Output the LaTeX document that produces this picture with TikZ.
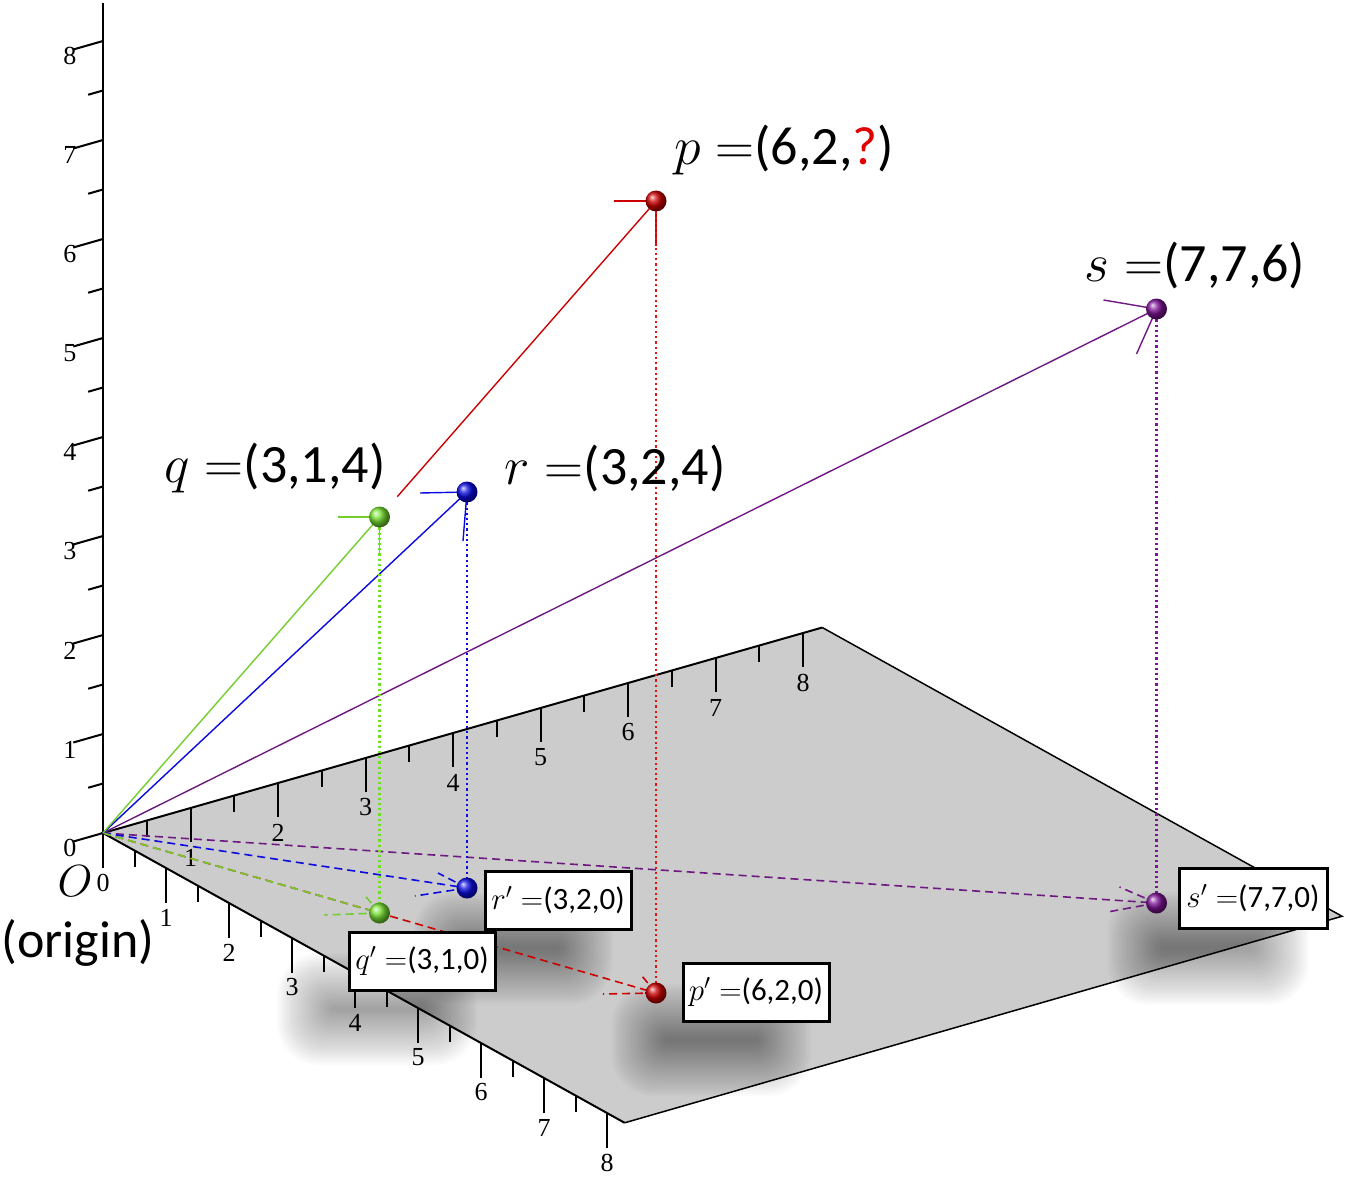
\RequirePackage{fix-cm}
\documentclass[tikz,border=0pt]{standalone}
\usepackage{fontspec}
\setmainfont{Carlito}
\newfontfamily\tickfont{Liberation Serif}
\usetikzlibrary{calc}

\definecolor{cgreen}{RGB}{115,205,45}
\definecolor{cgreenb}{RGB}{110,225,30}
\definecolor{cgreenball}{RGB}{120,225,50}
\definecolor{cblue}{RGB}{10,10,225}
\definecolor{cred}{RGB}{205,0,0}
\definecolor{credb}{RGB}{225,20,20}
\definecolor{cpurple}{RGB}{110,25,130}
\definecolor{cpurpleb}{RGB}{125,20,150}
\definecolor{planegray}{RGB}{204,204,204}
\definecolor{qmark}{RGB}{225,0,0}

\newcommand\softshadow[3]{%
  \foreach \e in {30,28,...,-24}{%
    \pgfmathsetmacro\hw{#2+\e}%
    \pgfmathsetmacro\hh{#3+\e}%
    \pgfmathsetmacro\rr{(\e+30)*0.7}%
    \fill[black,opacity=0.017,rounded corners=\rr pt] ($(#1)+(-\hw,-\hh)$) rectangle ($(#1)+(\hw,\hh)$);
  }}

\begin{document}
\begin{tikzpicture}[x=1pt,y=-1pt,
  threeD/.style={shift={(O)}, x={(63pt,-35pt)}, y={(87.5pt,25pt)}, z={(0pt,99pt)}},
  vec/.style={line width=1.4pt},
  proj/.style={line width=1.6pt, dash pattern=on 8pt off 5pt},
  drop/.style={line width=2.3pt, dash pattern=on 2.2pt off 3pt},
  ballnode/.style={circle, inner sep=0pt, minimum size=21pt, shading=ball},
  big/.style={font=\fontsize{54}{62}\selectfont, inner sep=0pt},
  boxlab/.style={draw, line width=3pt, fill=white, font=\fontsize{31}{36}\selectfont, minimum width=146pt, minimum height=58pt, inner sep=0pt},
  ticklab/.style={font=\tickfont\fontsize{26}{30}\selectfont, inner sep=0pt},
  axisline/.style={line width=2pt},
  edgeline/.style={line width=1.5pt},
  tickline/.style={line width=2pt}
]
\useasboundingbox (0,0) rectangle (1350,1180);
\coordinate (O) at (103,833);
\begin{scope}[threeD]
  \coordinate (PB) at (0,8.22,0);
  \coordinate (PC) at (8.25,8.22,0);
  \coordinate (PD) at (8.28,0,0);
  \coordinate (Ztop) at (0,0,8.38);
  \coordinate (qc) at (3,1,4);
  \coordinate (rc) at (3,2,4);
  \coordinate (pc) at (6,2,8);
  \coordinate (sc) at (7,7,6);
  \coordinate (qpc) at (3,1,0);
  \coordinate (rpc) at (3,2,0);
  \coordinate (ppc) at (6,2,0);
  \coordinate (spc) at (7,7,0);
  \fill[planegray] (O) -- (PB) -- (PC) -- (PD) -- cycle;
\end{scope}

% label positions
\coordinate (qlabpos) at (422,961);
\coordinate (rlabpos) at (558,900);
\coordinate (plabpos) at (756,992);
\coordinate (slabpos) at (1253,898);

% soft shadows
\softshadow{$(rlabpos)+(-45,48)$}{70}{26}
\softshadow{$(qlabpos)+(-45,48)$}{70}{26}
\softshadow{$(plabpos)+(-45,48)$}{70}{26}
\softshadow{$(slabpos)+(-45,50)$}{71}{27}

\begin{scope}[threeD]
  \draw[edgeline] (PB) -- (PC) -- (PD);
  \draw[axisline] (PD) -- (O) -- (PB);
  \draw[axisline] (O) -- (Ztop);
  \foreach \k in {0,...,8}{
    \draw[tickline] (\k,0,0) -- (\k,0,-0.35);
    \draw[tickline] (0,\k,0) -- (0,\k,-0.34);
    \draw[tickline] (0,0,\k) -- (0,-0.34,\k);
    \node[ticklab] at (\k,0,-0.5) {\k};
    \node[ticklab] at (0,-0.38,\k-0.06) {\k};
  }
  \foreach \k in {1,...,8}{
    \node[ticklab] at (0,\k,-0.5) {\k};
  }
  \foreach \k in {0.5,1.5,...,7.5}{
    \draw[tickline] (\k,0,0) -- (\k,0,-0.17);
    \draw[tickline] (0,\k,0) -- (0,\k,-0.17);
    \draw[tickline] (0,0,\k) -- (0,-0.17,\k);
  }
\end{scope}

% projections (dashed)
\draw[proj, cred] (O) -- (ppc);
\draw[proj, cpurple] (O) -- (spc);
\draw[proj, cblue] (O) -- (rpc);
\draw[proj, cgreen] (O) -- (qpc);
\draw[proj, cred] (ppc) -- ++(-53,1) (ppc) -- ++(-14,-17);
\draw[proj, cpurple] (spc) -- ++(-49,9) (spc) -- ++(-37,-16);
\draw[proj, cblue] (rpc) -- ++(-52,8) (rpc) -- ++(-29,-15);
\draw[proj, cgreen] (qpc) -- ++(-55,2) (qpc) -- ++(-15,-18);

% vectors
\draw[vec, cred, shorten <=447pt] (O) -- (pc);
\draw[vec, cpurple] (O) -- (sc);
\draw[vec, cblue] (O) -- (rc);
\draw[vec, cgreen] (O) -- (qc);
\draw[vec, cred] (pc) -- ++(-42,0) (pc) -- ++(0,45);
\draw[vec, cpurple] (sc) -- ++(-53,-9) (sc) -- ++(-20,45);
\draw[vec, cblue] (rc) -- ++(-47,1) (rc) -- ++(-4,49);
\draw[vec, cgreen] (qc) -- ++(-42,0) (qc) -- ++(0,39);

% drop lines
\draw[drop, credb] (pc) -- (ppc);
\draw[drop, cpurpleb] (sc) -- (spc);
\draw[drop, cblue] (rc) -- (rpc);
\draw[drop, cgreenb] (qc) -- (qpc);

% balls
\node[ballnode, ball color=cgreenball] (q) at (qc) {};
\node[ballnode, ball color=cblue] (r) at (rc) {};
\node[ballnode, ball color=cred] (p) at (pc) {};
\node[ballnode, ball color=cpurpleb] (s) at (sc) {};
\node[ballnode, ball color=cgreenball] (qp) at (qpc) {};
\node[ballnode, ball color=cblue] (rp) at (rpc) {};
\node[ballnode, ball color=cred] (pp) at (ppc) {};
\node[ballnode, ball color=cpurpleb] (sp) at (spc) {};

% boxed labels
\node[boxlab] (rlab) at (rlabpos) {$r'=$(3,2,0)};
\node[boxlab] (qlab) at (qlabpos) {$q'=$(3,1,0)};
\node[boxlab] (plab) at (plabpos) {$p'=$(6,2,0)};
\node[boxlab, minimum width=148pt, minimum height=60pt] (slab) at (slabpos) {$s'=$(7,7,0)};

% big labels
\node[big] (qname) at (275,468) {$q=$(3,1,4)};
\node[big] (rname) at (615,468) {$r=$(3,2,4)};
\node[big] (pname) at (784,150) {$p=$(6,2,\textcolor{qmark}{?})};
\node[big] (sname) at (1195,265) {$s=$(7,7,6)};
\node[font=\fontsize{45}{50}\selectfont, inner sep=0pt] (oname) at (75,881) {$O$};
\node[font=\fontsize{52}{60}\selectfont, inner sep=0pt] (origin) at (78,943) {(origin)};
\end{tikzpicture}
\end{document}
